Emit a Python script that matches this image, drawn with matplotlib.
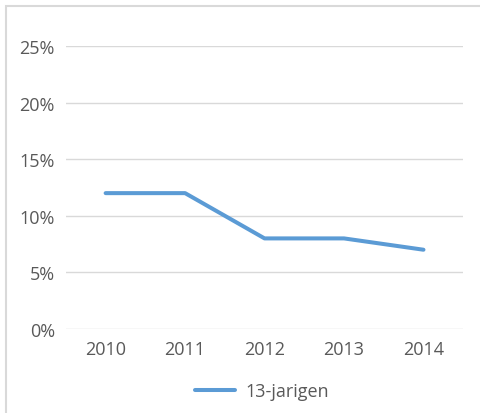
import matplotlib.pyplot as plt
from matplotlib.patches import Rectangle
from matplotlib.ticker import FuncFormatter

plt.rcParams['font.family'] = ['Open Sans', 'DejaVu Sans']

years = ['2010', '2011', '2012', '2013', '2014']
share = [0.12, 0.12, 0.08, 0.08, 0.07]
yticks = [0, 0.05, 0.10, 0.15, 0.20, 0.25]

fig = plt.figure(figsize=(4.81, 4.14), dpi=100)
ax = fig.add_axes([0.137, 0.203, 0.826, 0.6835])

# chart border (left and top visible in original crop)
fig.patches.append(Rectangle((6 / 481, -0.1), 1.2, 1 - 7 / 414 + 0.1, transform=fig.transFigure,
                             fill=False, edgecolor='#d9d9d9', linewidth=1.5))

ax.plot(range(len(years)), share, color='#5b9bd5', linewidth=2.9,
        solid_capstyle='round', solid_joinstyle='round', label='13-jarigen')

ax.set_xlim(-0.5, len(years) - 0.5)
ax.set_ylim(0, 0.25)
ax.set_xticks(range(len(years)))
ax.set_xticklabels(years)
ax.set_yticks(yticks)
ax.yaxis.set_major_formatter(FuncFormatter(lambda v, p: f'{v * 100:.0f}%'))
ax.grid(axis='y', color='#d9d9d9', linewidth=1)
ax.set_axisbelow(True)
for s in ax.spines.values():
    s.set_visible(False)
ax.tick_params(length=0, labelsize=13, labelcolor='#595959')
ax.tick_params(axis='x', pad=8)
ax.tick_params(axis='y', pad=8)

fig.legend(loc='center', bbox_to_anchor=(0.545, 0.053), frameon=False,
           fontsize=13, labelcolor='#595959', handlelength=2.2, handletextpad=0.6)

fig.savefig('out.png', dpi=100)
